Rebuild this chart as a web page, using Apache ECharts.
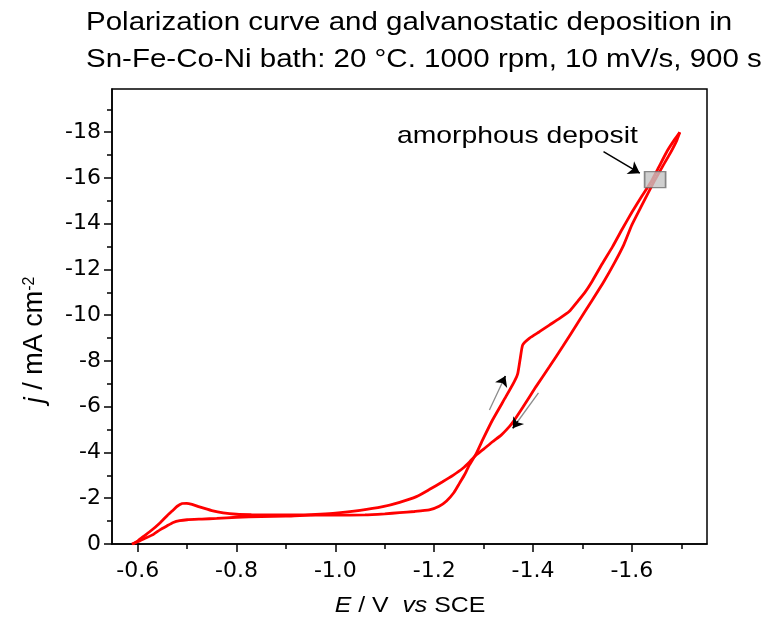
<!DOCTYPE html>
<html><head><meta charset="utf-8">
<script src="https://cdn.jsdelivr.net/npm/echarts@6/dist/echarts.min.js"></script>
<style>html,body{margin:0;padding:0;background:#fff}#c{width:766px;height:618px}</style>
</head><body><div id="c"></div>
<script>
// ---- text ----
const titleLines = ['Polarization curve and galvanostatic deposition in', 'Sn-Fe-Co-Ni bath: 20 \u00B0C. 1000 rpm, 10 mV/s, 900 s'];
const depositLabel = 'amorphous deposit';
// ---- axes ----
const xRange = [-1.752, -0.548];
const yRange = [-19.89, 0];
const xTicks = [-0.6, -0.8, -1.0, -1.2, -1.4, -1.6];
const xMinorTicks = [-0.7, -0.9, -1.1, -1.3, -1.5, -1.7];
const yTicks = [0, -2, -4, -6, -8, -10, -12, -14, -16, -18];
const yMinorTicks = [-1, -3, -5, -7, -9, -11, -13, -15, -17, -19];
// ---- forward (cathodic) scan ----
const E_forward = [-0.588,-0.600,-0.615,-0.632,-0.645,-0.659,-0.672,-0.685,-0.700,-0.730,-0.760,-0.800,-0.850,-0.900,-0.950,-1.000,-1.060,-1.100,-1.130,-1.160,-1.190,-1.210,-1.225,-1.240,-1.251,-1.262,-1.271,-1.285,-1.298,-1.318,-1.345,-1.362,-1.369,-1.374,-1.379,-1.393,-1.413,-1.433,-1.453,-1.473,-1.490,-1.505,-1.520,-1.540,-1.561,-1.580,-1.600,-1.620,-1.638,-1.655,-1.672,-1.687,-1.697];
const J_forward = [0,-0.10,-0.25,-0.42,-0.62,-0.79,-0.94,-1.02,-1.06,-1.09,-1.12,-1.17,-1.20,-1.22,-1.26,-1.26,-1.27,-1.32,-1.37,-1.42,-1.49,-1.65,-1.88,-2.25,-2.65,-3.05,-3.45,-3.95,-4.55,-5.42,-6.44,-7.10,-7.45,-8.10,-8.70,-9.00,-9.28,-9.57,-9.85,-10.16,-10.60,-11.00,-11.50,-12.25,-13.00,-13.75,-14.50,-15.20,-15.80,-16.50,-17.20,-17.70,-18.00];
// ---- reverse scan ----
const E_reverse = [-1.697,-1.690,-1.678,-1.662,-1.645,-1.620,-1.600,-1.584,-1.565,-1.544,-1.520,-1.490,-1.460,-1.433,-1.406,-1.380,-1.360,-1.352,-1.335,-1.318,-1.300,-1.285,-1.272,-1.258,-1.238,-1.217,-1.190,-1.164,-1.130,-1.096,-1.050,-0.995,-0.960,-0.930,-0.880,-0.830,-0.800,-0.773,-0.750,-0.725,-0.710,-0.699,-0.690,-0.680,-0.672,-0.660,-0.645,-0.628,-0.611,-0.598,-0.590];
const J_reverse = [-18.00,-17.60,-17.10,-16.50,-15.85,-14.80,-13.95,-13.10,-12.30,-11.50,-10.67,-9.65,-8.63,-7.75,-6.88,-6.00,-5.35,-5.13,-4.75,-4.47,-4.15,-3.89,-3.60,-3.31,-3.00,-2.72,-2.38,-2.07,-1.82,-1.63,-1.47,-1.34,-1.29,-1.27,-1.27,-1.28,-1.30,-1.36,-1.46,-1.62,-1.73,-1.78,-1.77,-1.65,-1.49,-1.25,-0.92,-0.60,-0.32,-0.10,0];
// ---- annotations (data coordinates) ----
const depositPoint = [-1.647, -15.93];
const depositArrow = [[-1.5426, -17.15], [-1.616, -16.21]];
const scanArrowUp = [[-1.3117, -5.86], [-1.344, -7.34]];
const scanArrowDown = [[-1.411, -6.61], [-1.359, -5.06]];

const zip = (a, b) => a.map((v, i) => [v, b[i]]);
const headStart = (arr) => [arr[0][0] + 0.8 * (arr[1][0] - arr[0][0]), arr[0][1] + 0.8 * (arr[1][1] - arr[0][1])];

const tickFont = 'DejaVu Sans';
const textFont = 'Liberation Sans';

const chart = echarts.init(document.getElementById('c'), null, {renderer: 'canvas'});
const axisCommon = {
  axisLine: {show: true, onZero: false, lineStyle: {color: '#000', width: 1.5}},
  splitLine: {show: false}
};
chart.setOption({
  animation: false,
  backgroundColor: '#fff',
  grid: {left: 112, top: 89, width: 595, height: 455, show: true, borderColor: '#000', borderWidth: 1.5, backgroundColor: 'transparent'},
  xAxis: [
    Object.assign({
      type: 'value', inverse: true, min: xRange[0], max: xRange[1], position: 'bottom',
      axisTick: {show: true, inside: false, length: 8, customValues: xTicks, lineStyle: {color: '#000', width: 1.5}},
      axisLabel: {customValues: xTicks, formatter: v => v.toFixed(1), fontFamily: tickFont, fontSize: 22, color: '#000', margin: 16}
    }, axisCommon),
    {
      type: 'value', inverse: true, min: xRange[0], max: xRange[1], position: 'bottom',
      axisLine: {show: false}, splitLine: {show: false}, axisLabel: {show: false},
      axisTick: {show: true, inside: false, length: 5, customValues: xMinorTicks, lineStyle: {color: '#000', width: 1.5}}
    }
  ],
  yAxis: [
    Object.assign({
      type: 'value', inverse: true, min: yRange[0], max: yRange[1], position: 'left',
      axisTick: {show: true, inside: false, length: 8, customValues: yTicks, lineStyle: {color: '#000', width: 1.5}},
      axisLabel: {customValues: yTicks, formatter: v => String(v), fontFamily: tickFont, fontSize: 22, color: '#000', margin: 11}
    }, axisCommon),
    {
      type: 'value', inverse: true, min: yRange[0], max: yRange[1], position: 'left',
      axisLine: {show: false}, splitLine: {show: false}, axisLabel: {show: false},
      axisTick: {show: true, inside: false, length: 5, customValues: yMinorTicks, lineStyle: {color: '#000', width: 1.5}}
    }
  ],
  series: [
    {
      name: 'forward', type: 'line', xAxisIndex: 0, yAxisIndex: 0,
      data: zip(E_forward, J_forward), showSymbol: false, smooth: 0.15,
      lineStyle: {color: '#ff0000', width: 2.8}, z: 3
    },
    {
      name: 'reverse', type: 'line', xAxisIndex: 0, yAxisIndex: 0,
      data: zip(E_reverse, J_reverse), showSymbol: false, smooth: 0.15,
      lineStyle: {color: '#ff0000', width: 2.8}, z: 3
    },
    {
      name: 'deposit', type: 'scatter', xAxisIndex: 0, yAxisIndex: 0,
      data: [depositPoint], symbol: 'rect', symbolSize: [21, 16],
      itemStyle: {color: '#c3c3c3', borderColor: '#6e6e6e', borderWidth: 1.5}, z: 5,
      markLine: {
        silent: true, animation: false, label: {show: false}, symbol: ['none', 'none'],
        data: [
          [{coord: depositArrow[0], lineStyle: {color: '#000', width: 1.5, type: 'solid'}, symbol: 'none'},
           {coord: depositArrow[1], symbol: 'arrow', symbolSize: 11}],
          [{coord: scanArrowUp[0], lineStyle: {color: '#8c8c8c', width: 1.3, type: 'solid'}, symbol: 'none'},
           {coord: scanArrowUp[1], symbol: 'none'}],
          [{coord: headStart(scanArrowUp), lineStyle: {color: '#000', width: 1.3, type: 'solid'}, symbol: 'none'},
           {coord: scanArrowUp[1], symbol: 'arrow', symbolSize: 10}],
          [{coord: scanArrowDown[0], lineStyle: {color: '#8c8c8c', width: 1.3, type: 'solid'}, symbol: 'none'},
           {coord: scanArrowDown[1], symbol: 'none'}],
          [{coord: headStart(scanArrowDown), lineStyle: {color: '#000', width: 1.3, type: 'solid'}, symbol: 'none'},
           {coord: scanArrowDown[1], symbol: 'arrow', symbolSize: 10}]
        ]
      }
    }
  ],
  graphic: [
    {type: 'text', x: 86, y: 23, scaleX: 1.18, style: {text: titleLines[0], fontFamily: textFont, fontSize: 25, fill: '#000', align: 'left', verticalAlign: 'middle'}},
    {type: 'text', x: 86, y: 60, scaleX: 1.18, style: {text: titleLines[1], fontFamily: textFont, fontSize: 25, fill: '#000', align: 'left', verticalAlign: 'middle'}},
    {type: 'text', x: 397, y: 136, scaleX: 1.18, z: 10, style: {text: depositLabel, fontFamily: textFont, fontSize: 24, fill: '#000', align: 'left', verticalAlign: 'middle'}},
    {type: 'text', x: 410, y: 606, scaleX: 1.13, style: {
      text: '{i|E} / V  {i|vs} SCE', fontFamily: textFont, fontSize: 22, fill: '#000', align: 'center', verticalAlign: 'middle',
      rich: {i: {fontStyle: 'italic', fontFamily: textFont, fontSize: 22, fill: '#000'}}}},
    {type: 'text', x: 35, y: 340, rotation: Math.PI / 2, style: {
      text: '{i|j} / mA cm{s|-2}', fontFamily: textFont, fontSize: 27, fill: '#000', align: 'center', verticalAlign: 'middle',
      rich: {
        i: {fontStyle: 'italic', fontFamily: textFont, fontSize: 27, fill: '#000'},
        s: {fontFamily: textFont, fontSize: 16, fill: '#000', verticalAlign: 'top'}
      }}}
  ]
});
</script></body></html>
